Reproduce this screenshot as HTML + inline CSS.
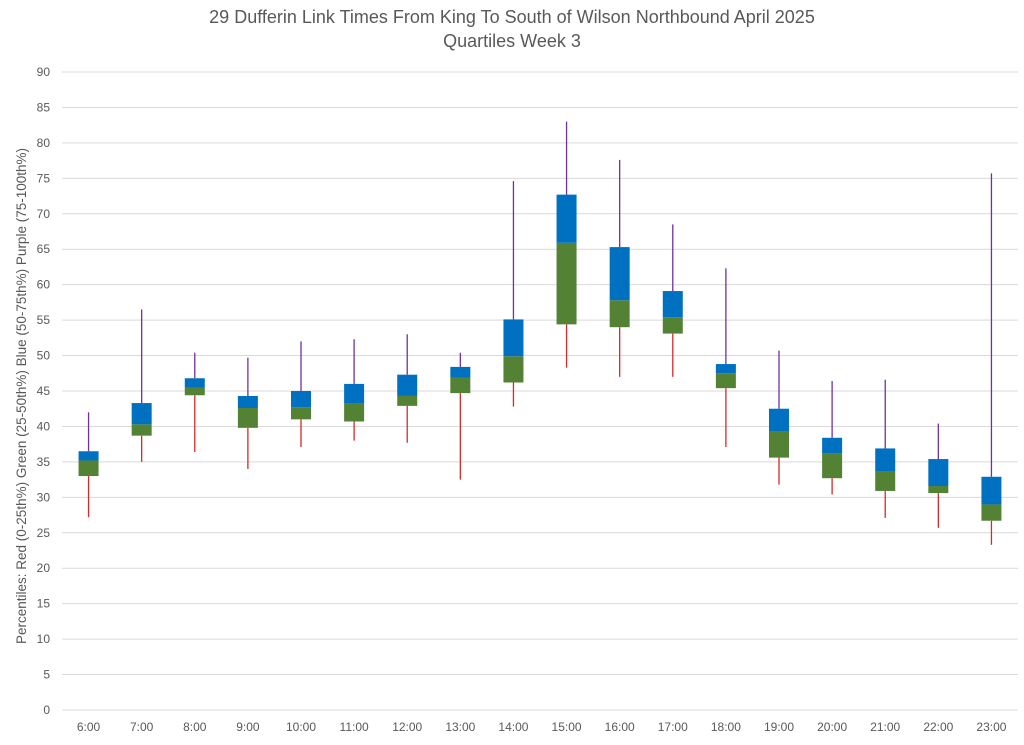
<!DOCTYPE html>
<html><head><meta charset="utf-8"><style>
body{margin:0;background:#fff;font-family:"Liberation Sans",sans-serif}
svg text{font-family:"Liberation Sans",sans-serif;fill:#595959}
</style></head><body>
<svg id="chart" width="1024" height="740" viewBox="0 0 1024 740" xmlns="http://www.w3.org/2000/svg">
<text x="512" y="23" font-size="18" text-anchor="middle">29 Dufferin Link Times From King To South of Wilson Northbound April 2025</text>
<text x="512" y="47" font-size="18" text-anchor="middle">Quartiles Week 3</text>
<text transform="translate(26,396) rotate(-90)" font-size="13.5" text-anchor="middle">Percentiles:  Red (0-25th%)  Green (25-50th%)  Blue (50-75th%)  Purple (75-100th%)</text>
<g id="grid"></g><g id="marks"></g><g id="labels"></g>
</svg>
<script>
const categories=["6:00","7:00","8:00","9:00","10:00","11:00","12:00","13:00","14:00","15:00","16:00","17:00","18:00","19:00","20:00","21:00","22:00","23:00"];
const minVals=[27.2,35,36.4,34,37.1,38,37.7,32.5,42.8,48.3,47,47,37.1,31.8,30.4,27.1,25.7,23.3];
const q1Vals=[33,38.7,44.4,39.8,41,40.7,42.9,44.7,46.2,54.4,54,53.1,45.4,35.6,32.7,30.9,30.6,26.7];
const medVals=[35.2,40.3,45.5,42.6,42.7,43.2,44.3,46.9,49.9,65.9,57.8,55.4,47.5,39.3,36.2,33.6,31.6,29];
const q3Vals=[36.5,43.3,46.8,44.3,45,46,47.3,48.4,55.1,72.7,65.3,59.1,48.8,42.5,38.4,36.9,35.4,32.9];
const maxVals=[42,56.5,50.4,49.7,52,52.3,53,50.4,74.6,83,77.6,68.5,62.3,50.7,46.4,46.6,40.4,75.7];
const yTicks=[0,5,10,15,20,25,30,35,40,45,50,55,60,65,70,75,80,85,90];
const NS="http://www.w3.org/2000/svg";
const L=62,R=1018,Y0=710,Y90=72;
const y=v=>Y0-(v/90)*(Y0-Y90);
const bw=(R-L)/categories.length;
const x=i=>L+bw*(i+0.5);
function mk(t,a,p){const e=document.createElementNS(NS,t);for(const k in a)e.setAttribute(k,a[k]);p.appendChild(e);return e;}
const grid=document.getElementById('grid'),marks=document.getElementById('marks'),labels=document.getElementById('labels');
yTicks.forEach(v=>{
 const ln=mk('line',{x1:L,x2:R,y1:y(v),y2:y(v),stroke:'#d9d9d9','stroke-width':1},grid);
 
 
 const t=mk('text',{x:50,y:y(v)+4,'font-size':12,'text-anchor':'end'},labels);
 t.textContent=v;
 
 
});
categories.forEach((c,i)=>{
 const cx=x(i),w=20;
 const lo=mk('line',{x1:cx,x2:cx,y1:y(minVals[i]),y2:y(q1Vals[i]),stroke:'#d62a2a','stroke-width':1.3},marks);
 
 
 const hi=mk('line',{x1:cx,x2:cx,y1:y(maxVals[i]),y2:y(q3Vals[i]),stroke:'#7030a0','stroke-width':1.3},marks);
 
 
 const g=mk('rect',{x:cx-w/2,y:y(medVals[i]),width:w,height:y(q1Vals[i])-y(medVals[i]),fill:'#548235'},marks);
 
 
 const b=mk('rect',{x:cx-w/2,y:y(q3Vals[i]),width:w,height:y(medVals[i])-y(q3Vals[i]),fill:'#0070c0'},marks);
 
 
 const t=mk('text',{x:cx,y:731,'font-size':12,'text-anchor':'middle'},labels);
 t.textContent=c;
 
 
});
</script>
</body></html>
